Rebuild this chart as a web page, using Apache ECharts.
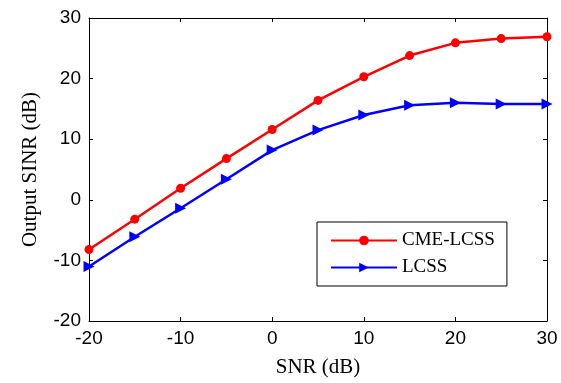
<!DOCTYPE html>
<html><head><meta charset="utf-8">
<script src="https://cdn.jsdelivr.net/npm/echarts@6/dist/echarts.min.js"></script>
<style>html,body{margin:0;padding:0;background:#fff}#c{width:561px;height:383px}</style>
</head><body><div id="c"></div>
<script>
const snr = [-20, -15, -10, -5, 0, 5, 10, 15, 20, 25, 30];
const cmeLcss = [-8.2, -3.2, 1.9, 6.8, 11.6, 16.4, 20.3, 23.8, 25.9, 26.6, 26.9];
const lcss = [-11.0, -6.1, -1.4, 3.4, 8.2, 11.5, 14.0, 15.6, 16.0, 15.8, 15.8];
const seriesNames = ['CME-LCSS', 'LCSS'];
const xTitle = 'SNR (dB)';
const yTitle = 'Output SINR (dB)';

const chart = echarts.init(document.getElementById('c'), null, {renderer: 'canvas'});
const tickFont = {fontFamily: 'Liberation Sans, Arial', fontSize: 19, color: '#000'};
const titleFont = {fontFamily: 'Liberation Serif, Times New Roman', fontSize: 21, color: '#000'};
const axisBase = {
  type: 'value', min: -20, max: 30, interval: 10,
  axisLine: {show: true, onZero: false, lineStyle: {color: '#000', width: 1}},
  axisTick: {show: true, inside: true, length: 4, lineStyle: {color: '#000'}},
  splitLine: {show: false}
};
chart.setOption({
  animation: false,
  grid: {left: 89, right: 14, top: 18, bottom: 60, containLabel: false},
  xAxis: [
    Object.assign({}, axisBase, {position: 'bottom', name: xTitle, nameLocation: 'middle', nameGap: 36,
      nameTextStyle: titleFont, axisLabel: Object.assign({margin: 8}, tickFont)}),
    Object.assign({}, axisBase, {position: 'top', axisLabel: {show: false}})
  ],
  yAxis: [
    Object.assign({}, axisBase, {position: 'left', name: yTitle, nameLocation: 'middle', nameGap: 48,
      nameTextStyle: titleFont, axisLabel: Object.assign({margin: 8}, tickFont)}),
    Object.assign({}, axisBase, {position: 'right', axisLabel: {show: false}})
  ],
  legend: {
    orient: 'vertical', left: 317, top: 222,
    data: seriesNames,
    itemWidth: 66, itemHeight: 12, itemGap: 8,
    padding: [9, 12, 9, 13],
    borderColor: '#000', borderWidth: 1, borderRadius: 0,
    textStyle: {fontFamily: 'Liberation Serif, Times New Roman', fontSize: 19, color: '#000'}
  },
  series: [
    {name: seriesNames[0], type: 'line', data: snr.map((x, i) => [x, cmeLcss[i]]),
      symbol: 'circle', symbolSize: 9, color: '#ff0000',
      lineStyle: {width: 2.5, color: '#ff0000'}, itemStyle: {color: '#ff0000'}},
    {name: seriesNames[1], type: 'line', data: snr.map((x, i) => [x, lcss[i]]),
      symbol: 'path://M0,0 L10,5 L0,10 Z', symbolSize: 11, symbolKeepAspect: true, color: '#0000ff',
      lineStyle: {width: 2.5, color: '#0000ff'}, itemStyle: {color: '#0000ff'}}
  ]
});
</script></body></html>
